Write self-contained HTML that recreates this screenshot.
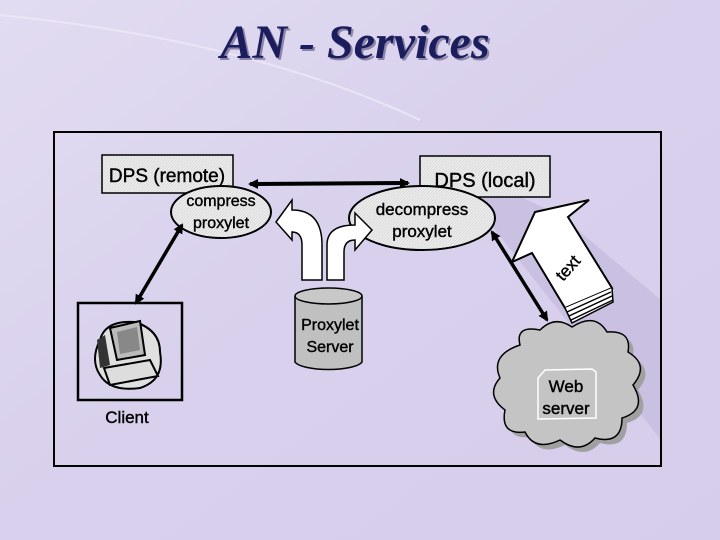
<!DOCTYPE html>
<html><head><meta charset="utf-8"><style>
html,body{margin:0;padding:0;width:720px;height:540px;overflow:hidden;background:#dcd4ee}
svg{display:block}
</style></head><body>
<svg width="720" height="540" viewBox="0 0 720 540" xmlns="http://www.w3.org/2000/svg" font-family="Liberation Sans, sans-serif">
<defs>
<linearGradient id="bg" x1="0" y1="0" x2="1" y2="1">
<stop offset="0" stop-color="#e2dcf2"/><stop offset="0.5" stop-color="#d8d0ec"/><stop offset="1" stop-color="#d6cdea"/>
</linearGradient>
<pattern id="hatch" width="3" height="3" patternUnits="userSpaceOnUse"><rect width="3" height="3" fill="#ececec"/><path d="M0 3L3 0" stroke="#cfcfcf" stroke-width="0.6"/></pattern>
<marker id="ah" markerWidth="10" markerHeight="10" refX="8" refY="5" orient="auto" markerUnits="userSpaceOnUse"><path d="M0 0L10 5L0 10Z" fill="#000"/></marker>
<marker id="at" markerWidth="10" markerHeight="10" refX="2" refY="5" orient="auto" markerUnits="userSpaceOnUse"><path d="M10 0L0 5L10 10Z" fill="#000"/></marker>
</defs>
<rect width="720" height="540" fill="url(#bg)"/>
<path d="M0 15 Q250 40 420 120" stroke="#eae6f6" stroke-width="2" fill="none"/>
<path d="M440 160 L560 215 L661 300 L661 440 Z" fill="#c4bade" opacity="0.7"/>
<text x="357" y="60" text-anchor="middle" font-family="Liberation Serif, serif" font-style="italic" font-weight="bold" font-size="48" fill="#8a85a8">AN - Services</text>
<text x="355" y="58" text-anchor="middle" font-family="Liberation Serif, serif" font-style="italic" font-weight="bold" font-size="48" fill="#1b1d5c">AN - Services</text>
<rect x="54" y="132" width="607" height="334" fill="none" stroke="#000" stroke-width="2"/>
<g stroke="#000" stroke-width="0.4">
<rect x="102" y="155" width="131" height="38" fill="url(#hatch)" stroke-width="1.5"/>
<text x="167" y="182" text-anchor="middle" font-size="19">DPS (remote)</text>
<ellipse cx="221" cy="212" rx="50" ry="26" fill="url(#hatch)" stroke-width="2"/>
<text x="221" y="206" text-anchor="middle" font-size="16">compress</text>
<text x="221" y="228" text-anchor="middle" font-size="16">proxylet</text>
<rect x="420" y="156" width="130" height="41" fill="url(#hatch)" stroke-width="1.5"/>
<text x="485" y="187" text-anchor="middle" font-size="20">DPS (local)</text>
<ellipse cx="422" cy="218" rx="73" ry="32" fill="url(#hatch)" stroke-width="2"/>
<text x="422" y="215" text-anchor="middle" font-size="17">decompress</text>
<text x="422" y="237" text-anchor="middle" font-size="17">proxylet</text>
</g>
<line x1="250" y1="184" x2="408" y2="183" stroke="#000" stroke-width="4" marker-start="url(#at)" marker-end="url(#ah)"/>
<path d="M302 280 L302 245 Q302 232 292 232 L292 240 L276 222 L292 200 L292 210 Q322 210 322 245 L322 280 Z" fill="#fff" stroke="#000" stroke-width="1.5"/>
<path d="M327 280 L327 245 Q327 225 355 225 L355 213 L372 230 L355 250 L355 240 Q344 240 344 252 L344 280 Z" fill="#fff" stroke="#000" stroke-width="1.5"/>
<path d="M295 296 L295 362 A34 9 0 0 0 362 362 L362 296" fill="#c0c0c0" stroke="#000" stroke-width="1.5"/>
<ellipse cx="328.5" cy="296" rx="33.5" ry="8" fill="#c8c8c8" stroke="#000" stroke-width="1.5"/>
<g stroke="#000" stroke-width="0.4">
<text x="330" y="330" text-anchor="middle" font-size="16">Proxylet</text>
<text x="330" y="352" text-anchor="middle" font-size="16">Server</text>
<text x="127" y="423" text-anchor="middle" font-size="17">Client</text>
</g>
<line x1="182" y1="225" x2="136" y2="303" stroke="#000" stroke-width="3.5" marker-start="url(#at)" marker-end="url(#ah)"/>
<rect x="78" y="303" width="104" height="97" fill="none" stroke="#000" stroke-width="2.5"/>
<path d="M100 340 Q105 320 135 322 Q160 330 160 352 Q165 380 140 388 Q110 392 100 375 Q90 360 100 340 Z" fill="#e0e0e0" stroke="#000" stroke-width="2"/>
<path d="M110 328 L140 321 L145 355 L117 360 Z" fill="#bbb" stroke="#000" stroke-width="2"/>
<path d="M117 332 L137 327 L140 350 L120 354 Z" fill="#888"/>
<path d="M104 368 L150 360 L158 376 L110 385 Z" fill="#ddd" stroke="#000" stroke-width="2"/>
<path d="M97 340 L105 335 L110 365 L100 368 Z" fill="#333"/>
<line x1="492" y1="232" x2="547" y2="320" stroke="#000" stroke-width="3.5" marker-start="url(#at)" marker-end="url(#ah)"/>
<path d="M589 200 L535 212 L512 262 L532 253 L565 308 L612 288 L568 217 Z" fill="#fff" stroke="#000" stroke-width="2"/>
<path d="M565 308 L572 323 L613 302 L612 288" fill="#fff" stroke="#000" stroke-width="1.5"/>
<path d="M567 312 L611 292 M569 316 L612 296 M571 320 L613 300" stroke="#000" stroke-width="1.5"/>
<text x="563" y="282" font-size="17" stroke="#000" stroke-width="0.4" transform="rotate(-48 563 282)">text</text>
<path d="M520 345 Q515 325 540 330 Q555 315 572 327 Q595 312 607 332 Q632 330 628 352 Q650 365 633 385 Q648 410 622 418 Q622 445 595 438 Q580 455 560 440 Q535 452 525 432 Q500 435 505 410 Q485 395 500 378 Q490 355 520 345 Z" fill="#a0a0a0" transform="translate(5,5)"/>
<path d="M520 345 Q515 325 540 330 Q555 315 572 327 Q595 312 607 332 Q632 330 628 352 Q650 365 633 385 Q648 410 622 418 Q622 445 595 438 Q580 455 560 440 Q535 452 525 432 Q500 435 505 410 Q485 395 500 378 Q490 355 520 345 Z" fill="#c4c4c4" stroke="#000" stroke-width="1.5"/>
<path d="M545 370 L592 369 L596 372 L596 418 L538 419 L538 378 Z" fill="#c4c4c4" stroke="#fff" stroke-width="1.5"/>
<g stroke="#000" stroke-width="0.4">
<text x="566" y="392" text-anchor="middle" font-size="17">Web</text>
<text x="566" y="414" text-anchor="middle" font-size="17">server</text>
</g>
</svg>
</body></html>
